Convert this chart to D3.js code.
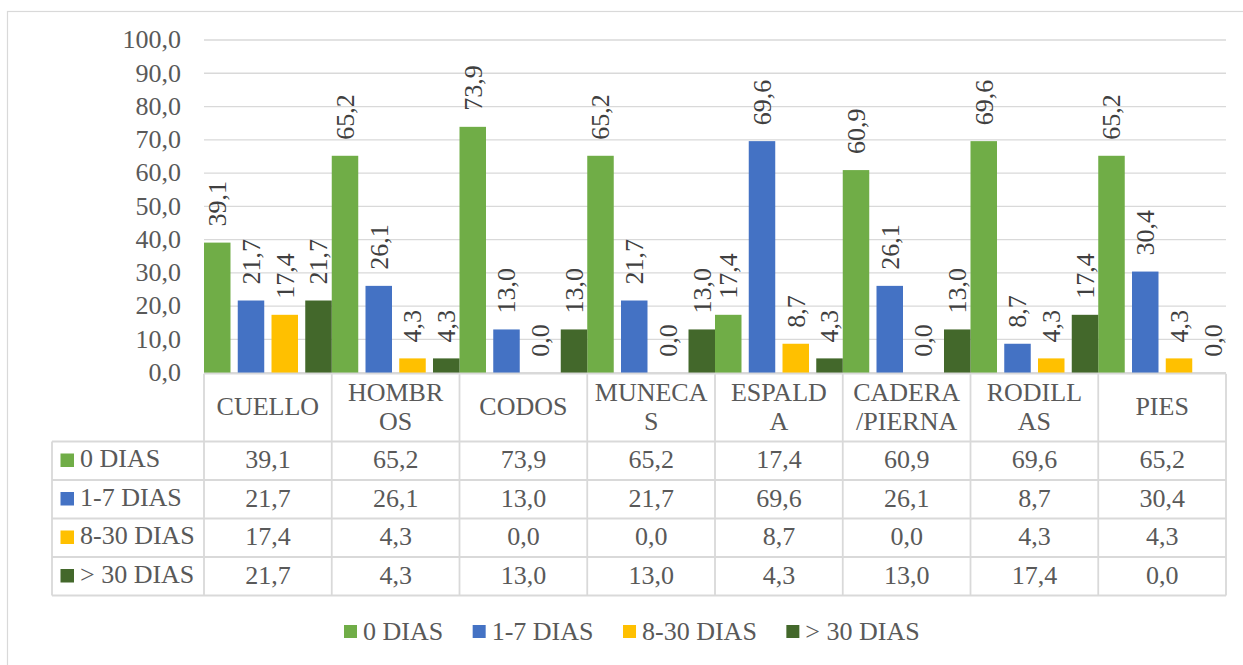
<!DOCTYPE html>
<html>
<head>
<meta charset="utf-8">
<script src="https://cdn.jsdelivr.net/npm/d3@7"></script>
</head>
<body style="margin:0">
<svg id="chart" width="1243" height="665"></svg>
<script>
// ---- data ----
const categories = ["CUELLO", "HOMBROS", "CODOS", "MUNECAS", "ESPALDA", "CADERA/PIERNA", "RODILLAS", "PIES"];
const seriesNames = ["0 DIAS", "1-7 DIAS", "8-30 DIAS", "> 30 DIAS"];
const dias0 = [39.1, 65.2, 73.9, 65.2, 17.4, 60.9, 69.6, 65.2];
const dias1a7 = [21.7, 26.1, 13.0, 21.7, 69.6, 26.1, 8.7, 30.4];
const dias8a30 = [17.4, 4.3, 0.0, 0.0, 8.7, 0.0, 4.3, 4.3];
const diasMas30 = [21.7, 4.3, 13.0, 13.0, 4.3, 13.0, 17.4, 0.0];
const yTicks = [0, 10, 20, 30, 40, 50, 60, 70, 80, 90, 100];
const seriesColors = ["#70AD47", "#4472C4", "#FFC000", "#43682B"];

const seriesValues = [dias0, dias1a7, dias8a30, diasMas30];
const rows = seriesNames.map((name, i) => ({ name, color: seriesColors[i], values: seriesValues[i] }));

const svg = d3.select("#chart");
const FS = 26;
const textGray = "#595959";
const lineGray = "#D9D9D9";
const fmt = v => d3.format(".1f")(v).replace(".", ",");
// every text is a direct child of the svg
const addText = () => svg.append("text").attr("font-family", "Liberation Serif").attr("font-size", FS)
  .style("font-family", "'Liberation Serif'").style("font-size", FS + "px");

const plotLeft = 204, plotRight = 1226, plotTop = 40, plotBottom = 372.7;
const tableLeft = 52;
const headerBottom = 441.5;
const rowH = 38.5;

svg.append("rect")
  .attr("x", 7.5).attr("y", 11.5).attr("width", 1300).attr("height", 700)
  .attr("fill", "none").attr("stroke", lineGray).attr("stroke-width", 1.2);

const x = d3.scaleBand().domain(categories).range([plotLeft, plotRight]).padding(0);
const xs = d3.scaleBand().domain(seriesNames).range([0, x.bandwidth()]).paddingInner(0.215).paddingOuter(0);
const y = d3.scaleLinear().domain([0, 100]).range([plotBottom, plotTop]);

// gridlines
svg.append("g").selectAll("line").data(yTicks).join("line")
  .attr("x1", plotLeft).attr("x2", plotRight)
  .attr("y1", d => y(d)).attr("y2", d => y(d))
  .attr("stroke", lineGray).attr("stroke-width", 1.3);

// y tick labels
yTicks.forEach(v => {
  addText().attr("x", 181).attr("y", y(v)).attr("dy", "0.32em")
    .attr("text-anchor", "end").attr("fill", textGray).text(fmt(v));
});

// bars
const groups = svg.append("g").selectAll("g").data(rows).join("g").attr("fill", d => d.color);
groups.selectAll("rect")
  .data(d => d.values.map((v, i) => ({ v, cat: categories[i], s: d.name })))
  .join("rect")
  .attr("x", d => x(d.cat) + xs(d.s))
  .attr("width", xs.bandwidth())
  .attr("y", d => y(d.v))
  .attr("height", d => y(0) - y(d.v));

// data labels (rotated)
rows.forEach(r => {
  r.values.forEach((v, i) => {
    const cx = x(categories[i]) + xs(r.name) + xs.bandwidth() / 2;
    const yy = y(v) - 16;
    addText()
      .attr("transform", `translate(${cx},${yy}) rotate(-90)`)
      .attr("dy", "0.34em")
      .attr("fill", "#404040")
      .text(fmt(v));
  });
});

// ---- data table ----
const tbl = svg.append("g");
const tableBottom = headerBottom + rowH * rows.length;
const L = (x1, y1, x2, y2) => tbl.append("line").attr("x1", x1).attr("y1", y1).attr("x2", x2).attr("y2", y2)
  .attr("stroke", lineGray).attr("stroke-width", 1.8);

const bounds = categories.map(c => x(c)).concat([plotRight]);
bounds.forEach(bx => L(bx, plotBottom + 1, bx, tableBottom));
L(plotLeft, plotBottom + 1, plotRight, plotBottom + 1);
for (let k = 0; k <= rows.length; k++) {
  L(tableLeft, headerBottom + k * rowH, plotRight, headerBottom + k * rowH);
}
L(tableLeft, headerBottom, tableLeft, tableBottom);

// category labels, wrapped by character to the cell width
const maxW = 113.4;
categories.forEach(c => {
  const lines = [];
  let cur = "";
  const probe = addText();
  for (const ch of c) {
    probe.text(cur + ch);
    if (cur.length && probe.node().getComputedTextLength() > maxW) {
      lines.push(cur); cur = ch;
    } else cur += ch;
  }
  lines.push(cur);
  probe.remove();
  const cx = x(c) + x.bandwidth() / 2;
  const baseY = lines.length === 1 ? 415 : 401;
  lines.forEach((ln, j) => {
    addText().attr("x", cx).attr("y", baseY + j * 28.5).attr("fill", textGray)
      .attr("text-anchor", "middle").text(ln);
  });
});

// table rows
rows.forEach((r, k) => {
  const top = headerBottom + k * rowH;
  tbl.append("rect").attr("x", 60.5).attr("y", top + 12).attr("width", 13.5).attr("height", 13.5).attr("fill", r.color);
  addText().attr("x", 80).attr("y", top + 25.8).attr("fill", textGray).text(r.name);
  r.values.forEach((v, i) => {
    addText().attr("x", x(categories[i]) + x.bandwidth() / 2).attr("y", top + 26.5)
      .attr("text-anchor", "middle").attr("fill", textGray).text(fmt(v));
  });
});

// ---- legend ----
let lx = 344;
rows.forEach(r => {
  svg.append("rect").attr("x", lx).attr("y", 625).attr("width", 13).attr("height", 13).attr("fill", r.color);
  const t = addText().attr("x", lx + 19).attr("y", 640).attr("fill", textGray).text(r.name);
  lx += 19 + t.node().getComputedTextLength() + 29.5;
});
</script>
</body>
</html>
